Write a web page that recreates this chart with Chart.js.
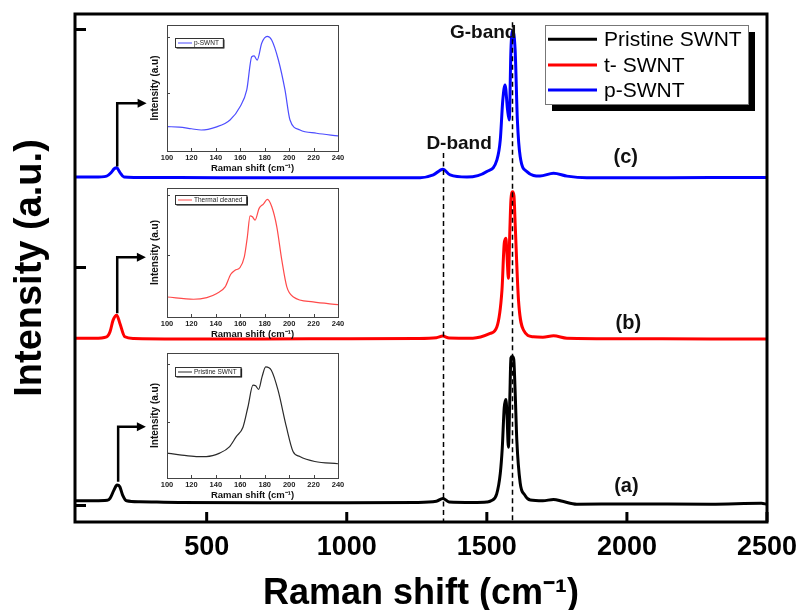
<!DOCTYPE html>
<html>
<head>
<meta charset="utf-8">
<script src="https://cdn.jsdelivr.net/npm/chart.js@4.4.0/dist/chart.umd.min.js"></script>
<style>
html, body { margin: 0; padding: 0; background: #fff; }
#wrap { position: relative; width: 801px; height: 610px; overflow: hidden; }
canvas { position: absolute; }
</style>
</head>
<body>
<div id="wrap">
  <canvas id="main" width="801" height="610" style="left:0;top:0;width:801px;height:610px"></canvas>
  <canvas id="insetC"></canvas>
  <canvas id="insetB"></canvas>
  <canvas id="insetA"></canvas>
</div>
<script>
// ---------------- DATA ----------------
const xTickValues = [500, 1000, 1500, 2000, 2500];
const yTickValues = [0, 1, 2];
const seriesLabels = ['Pristine SWNT', 't- SWNT', 'p-SWNT'];
const panelLabels = ['(a)', '(b)', '(c)'];
const bandLabels = ['D-band', 'G-band'];
const bandShifts = [1345, 1591];

// (a) Pristine SWNT (offset spectrum)
const pristineShift = [30,100,145,155,169,180,190,200,214,260,400,700,1000,1250,1320,1343,1365,1450,1500,1515,1535,1548,1555,1562,1568,1572,1577,1582,1586,1591,1596,1601,1607,1619,1635,1655,1700,1738,1770,1821,2000,2300,2480,2500];
const pristineIntensity = [0.02,0.02,0.022,0.03,0.065,0.086,0.079,0.044,0.02,0.016,0.013,0.012,0.012,0.013,0.018,0.03,0.015,0.013,0.015,0.02,0.048,0.135,0.24,0.41,0.446,0.38,0.245,0.45,0.62,0.626,0.615,0.48,0.275,0.095,0.045,0.023,0.02,0.026,0.018,0.006,0.007,0.006,0.01,0.005];

// (b) t- SWNT (thermally cleaned)
const thermalShift = [30,100,143,155,166,179,190,208,240,400,700,1000,1250,1320,1343,1365,1450,1512,1536,1554,1562,1568,1572,1577,1582,1586,1592,1597,1601,1613,1631,1666,1700,1738,1786,2000,2300,2500];
const thermalIntensity = [0.703,0.703,0.709,0.73,0.779,0.80,0.766,0.709,0.702,0.700,0.700,0.701,0.702,0.705,0.712,0.704,0.703,0.723,0.751,0.905,1.10,1.123,1.05,0.955,1.15,1.284,1.318,1.30,1.187,0.863,0.737,0.709,0.707,0.713,0.703,0.701,0.700,0.700];

// (c) p-SWNT
const purifiedShift = [30,100,143,160,170,179,190,205,240,400,700,1000,1262,1309,1343,1369,1429,1500,1536,1548,1557,1565,1574,1580,1586,1592,1601,1609,1619,1643,1690,1738,1786,1857,2000,2300,2500];
const purifiedIntensity = [1.38,1.38,1.384,1.40,1.415,1.419,1.40,1.38,1.378,1.378,1.377,1.377,1.377,1.389,1.413,1.389,1.38,1.403,1.452,1.536,1.704,1.767,1.662,1.62,1.914,1.995,1.914,1.62,1.466,1.403,1.384,1.396,1.384,1.377,1.377,1.378,1.378];

// Insets: RBM region
const insetTickValues = [100, 120, 140, 160, 180, 200, 220, 240];
const insetLegendLabels = ['Pristine SWNT', 'Thermal cleaned', 'p-SWNT'];

const pristineRbmShift = [100,110.4,124,132.2,143.1,151.3,156.7,162.2,166.3,170.4,172.6,175,177.8,180.8,185.4,190.9,197.7,203.2,208.7,221,240];
const pristineRbmIntensity = [0.452,0.423,0.393,0.393,0.452,0.567,0.74,0.903,1.26,1.636,1.624,1.562,1.78,1.953,1.896,1.549,0.913,0.48,0.393,0.307,0.267];

const thermalRbmShift = [100,121.7,132.6,140.8,147.6,152.2,155.7,159.8,163.3,165.8,168,169.9,172.1,175.4,178.9,182.2,185.8,189.9,194,198.1,203.5,219.6,240];
const thermalRbmIntensity = [0.305,0.267,0.295,0.362,0.472,0.683,0.75,0.795,0.972,1.305,1.655,1.638,1.583,1.778,1.85,1.928,1.805,1.472,0.917,0.472,0.305,0.222,0.178];

const purifiedRbmShift = [100,110,120,128,140,151.6,159.8,165.3,169.4,171.3,173.8,177.6,182,185.7,191.2,196.6,200.7,208.9,222.5,240];
const purifiedRbmIntensity = [0.407,0.40,0.37,0.348,0.40,0.526,0.762,1.059,1.65,1.663,1.59,1.893,2.01,1.947,1.591,1.059,0.526,0.348,0.29,0.242];

// ---------------- STYLE / LAYOUT ----------------
const FONT = '"Liberation Sans", Arial, sans-serif';
const mainColors = ['#000000', '#ff0000', '#0000ff'];
const insetColors = ['#2a2a2a', '#ff4a4a', '#4d4dff'];
const LAYOUT = {
  bandLineTop: [1.481, 2.03],
  bandText: [{x: 1401, y: 1.524}, {x: 1487, y: 1.991}],
  panelText: [{x: 1998, y: 0.086}, {x: 2005, y: 0.771}, {x: 1996, y: 1.466}],
  arrows: [
    {x: 184, base: 0.10, corner: 0.331, tip: 283},
    {x: 180.7, base: 0.808, corner: 1.043, tip: 283},
    {x: 180.7, base: 1.424, corner: 1.69, tip: 285.7}
  ],
  legend: {x: 545, y: 25, w: 203, h: 79, shadow: 7, rows: [39.3, 65, 90], lineX0: 548, lineX1: 597, textX: 604}
};

const pts = (xs, ys) => xs.map((x, i) => ({x: x, y: ys[i]}));

// ---------------- MAIN CHART ----------------
const mainDeco = {
  id: 'mainDeco',
  afterDatasetsDraw(chart) {
    const {ctx, chartArea: a, scales: {x, y}} = chart;
    ctx.save();
    ctx.strokeStyle = '#000';
    ctx.lineWidth = 1.5;
    ctx.setLineDash([5, 3.5]);
    bandShifts.forEach((v, i) => {
      const px = Math.round(x.getPixelForValue(v)) + 0.5;
      ctx.beginPath();
      ctx.moveTo(px, y.getPixelForValue(LAYOUT.bandLineTop[i]));
      ctx.lineTo(px, a.bottom);
      ctx.stroke();
    });
    ctx.restore();
  },
  afterDraw(chart) {
    const {ctx, chartArea: a, scales: {x, y}} = chart;
    ctx.save();
    // frame
    ctx.strokeStyle = '#000';
    ctx.lineWidth = 3;
    ctx.strokeRect(a.left, a.top, a.right - a.left, a.bottom - a.top);
    // inward ticks
    ctx.beginPath();
    xTickValues.forEach(v => {
      const px = x.getPixelForValue(v);
      ctx.moveTo(px, a.bottom);
      ctx.lineTo(px, a.bottom - 10);
    });
    yTickValues.forEach(v => {
      const py = y.getPixelForValue(v);
      ctx.moveTo(a.left, py);
      ctx.lineTo(a.left + 11, py);
    });
    ctx.stroke();

    // arrows
    ctx.lineWidth = 2.5;
    ctx.fillStyle = '#000';
    LAYOUT.arrows.forEach(ar => {
      const px = x.getPixelForValue(ar.x);
      const py0 = y.getPixelForValue(ar.base);
      const py1 = y.getPixelForValue(ar.corner);
      const tip = x.getPixelForValue(ar.tip);
      ctx.beginPath();
      ctx.moveTo(px, py0);
      ctx.lineTo(px, py1);
      ctx.lineTo(tip - 7, py1);
      ctx.stroke();
      ctx.beginPath();
      ctx.moveTo(tip, py1);
      ctx.lineTo(tip - 9, py1 - 4.5);
      ctx.lineTo(tip - 9, py1 + 4.5);
      ctx.closePath();
      ctx.fill();
    });

    // text labels
    ctx.fillStyle = '#111';
    ctx.textAlign = 'center';
    ctx.textBaseline = 'middle';
    ctx.font = 'bold 19px ' + FONT;
    bandLabels.forEach((t, i) => {
      const p = LAYOUT.bandText[i];
      ctx.fillText(t, x.getPixelForValue(p.x), y.getPixelForValue(p.y) + 1);
    });
    ctx.font = 'bold 20px ' + FONT;
    panelLabels.forEach((t, i) => {
      const p = LAYOUT.panelText[i];
      ctx.fillText(t, x.getPixelForValue(p.x), y.getPixelForValue(p.y) + 1);
    });

    // legend
    const L = LAYOUT.legend;
    ctx.fillStyle = '#000';
    ctx.fillRect(L.x + L.shadow, L.y + L.shadow, L.w, L.h);
    ctx.fillStyle = '#fff';
    ctx.fillRect(L.x, L.y, L.w, L.h);
    ctx.strokeStyle = '#777';
    ctx.lineWidth = 1;
    ctx.strokeRect(L.x + 0.5, L.y + 0.5, L.w, L.h);
    ctx.textAlign = 'left';
    ctx.font = '21px ' + FONT;
    chart.data.datasets.forEach((ds, i) => {
      const ry = L.rows[i];
      ctx.strokeStyle = ds.borderColor;
      ctx.lineWidth = 3;
      ctx.beginPath();
      ctx.moveTo(L.lineX0, ry);
      ctx.lineTo(L.lineX1, ry);
      ctx.stroke();
      ctx.fillStyle = '#000';
      ctx.fillText(ds.label, L.textX, ry + 1);
    });
    ctx.restore();
  }
};

const mainSeries = [
  pts(pristineShift, pristineIntensity),
  pts(thermalShift, thermalIntensity),
  pts(purifiedShift, purifiedIntensity)
];

new Chart(document.getElementById('main'), {
  type: 'line',
  data: {
    datasets: seriesLabels.map((lab, i) => ({
      label: lab,
      data: mainSeries[i],
      borderColor: mainColors[i],
      backgroundColor: mainColors[i],
      borderWidth: 3,
      pointRadius: 0,
      cubicInterpolationMode: 'monotone',
      fill: false
    }))
  },
  options: {
    responsive: false,
    animation: false,
    devicePixelRatio: 1,
    layout: {padding: {left: 0, top: 14, right: 34, bottom: 0}},
    plugins: {legend: {display: false}, tooltip: {enabled: false}},
    scales: {
      x: {
        type: 'linear', min: 30, max: 2500,
        afterBuildTicks: s => { s.ticks = xTickValues.map(v => ({value: v})); },
        grid: {display: false, drawTicks: false},
        border: {display: false},
        ticks: {padding: 9.5, maxRotation: 0, autoSkip: false, color: '#000',
                callback: v => String(v),
                font: {family: FONT, size: 27, weight: 'bold'}},
        title: {display: true, text: 'Raman shift (cm⁻¹)', color: '#000',
                font: {family: FONT, size: 36, weight: 'bold', lineHeight: 0.8},
                padding: {top: 0, bottom: 1.8}},
        afterFit: s => { s.height = 88; s.paddingLeft = 0; s.paddingRight = 0; }
      },
      y: {
        type: 'linear', min: -0.069, max: 2.065,
        afterBuildTicks: s => { s.ticks = yTickValues.map(v => ({value: v})); },
        grid: {display: false, drawTicks: false},
        border: {display: false},
        ticks: {display: false},
        title: {display: true, text: 'Intensity (a.u.)', color: '#000',
                font: {family: FONT, size: 38, weight: 'bold'},
                padding: {top: 7.4, bottom: 0}},
        afterFit: s => { s.width = 75; s.paddingTop = 0; s.paddingBottom = 0; }
      }
    }
  },
  plugins: [mainDeco]
});

// ---------------- INSETS ----------------
const insetDeco = {
  id: 'insetDeco',
  afterDraw(chart, args, opts) {
    const {ctx, chartArea: a, scales: {x, y}} = chart;
    ctx.save();
    ctx.strokeStyle = '#444';
    ctx.lineWidth = 1;
    ctx.strokeRect(Math.round(a.left) + 0.5, Math.round(a.top) + 0.5, Math.round(a.right - a.left), Math.round(a.bottom - a.top));
    ctx.beginPath();
    insetTickValues.forEach(v => {
      const px = Math.round(x.getPixelForValue(v)) + 0.5;
      ctx.moveTo(px, a.bottom);
      ctx.lineTo(px, a.bottom - 3);
    });
    [1, 2].forEach(v => {
      const py = Math.round(y.getPixelForValue(v)) + 0.5;
      ctx.moveTo(a.left, py);
      ctx.lineTo(a.left + 3, py);
    });
    ctx.stroke();
    // legend box
    const ds = chart.data.datasets[0];
    ctx.font = '6.5px ' + FONT;
    const tw = ctx.measureText(ds.label).width;
    const bx = a.left + 8, by = a.top + opts.boxTop, bw = 19 + tw + 4, bh = 9;
    ctx.fillStyle = '#000';
    ctx.fillRect(bx + 1.5, by + 1.5, bw, bh);
    ctx.fillStyle = '#fff';
    ctx.fillRect(bx, by, bw, bh);
    ctx.strokeStyle = '#333';
    ctx.strokeRect(bx + 0.5, by + 0.5, bw, bh);
    ctx.strokeStyle = ds.borderColor;
    ctx.lineWidth = 1;
    ctx.beginPath();
    ctx.moveTo(bx + 3, by + bh / 2 + 0.5);
    ctx.lineTo(bx + 17, by + bh / 2 + 0.5);
    ctx.stroke();
    ctx.fillStyle = '#222';
    ctx.textAlign = 'left';
    ctx.textBaseline = 'middle';
    ctx.fillText(ds.label, bx + 19, by + bh / 2 + 1);
    ctx.restore();
  }
};

function insetChart(id, shifts, intens, idx, g) {
  const el = document.getElementById(id);
  el.width = g.w; el.height = g.h;
  el.style.left = g.left + 'px'; el.style.top = g.top + 'px';
  el.style.width = g.w + 'px'; el.style.height = g.h + 'px';
  return new Chart(el, {
    type: 'line',
    data: {datasets: [{
      label: insetLegendLabels[idx],
      data: pts(shifts, intens),
      borderColor: insetColors[idx],
      borderWidth: 1.2,
      pointRadius: 0,
      cubicInterpolationMode: 'monotone',
      fill: false
    }]},
    options: {
      responsive: false,
      animation: false,
      devicePixelRatio: 1,
      layout: {padding: {left: 0, top: g.padTop, right: 7, bottom: 0}},
      plugins: {legend: {display: false}, tooltip: {enabled: false}, insetDeco: {boxTop: g.boxTop}},
      scales: {
        x: {
          type: 'linear', min: 100, max: 240,
          afterBuildTicks: s => { s.ticks = insetTickValues.map(v => ({value: v})); },
          grid: {display: false, drawTicks: false},
          border: {display: false},
          ticks: {padding: 2.3, maxRotation: 0, autoSkip: false, color: '#222',
                  callback: v => String(v),
                  font: {family: FONT, size: 7.5, weight: 'bold'}},
          title: {display: true, text: 'Raman shift (cm⁻¹)', color: '#111',
                  font: {family: FONT, size: 9.5, weight: 'bold'},
                  padding: {top: 0, bottom: 6.3}},
          afterFit: s => { s.height = 29; s.paddingLeft = 0; s.paddingRight = 0; }
        },
        y: {
          type: 'linear', min: g.yMin, max: g.yMax,
          grid: {display: false, drawTicks: false},
          border: {display: false},
          ticks: {display: false},
          title: {display: true, text: 'Intensity (a.u)', color: '#111',
                  font: {family: FONT, size: 10, weight: 'bold'},
                  padding: {top: 9, bottom: 0}},
          afterFit: s => { s.width = 27; s.paddingTop = 0; s.paddingBottom = 0; }
        }
      }
    },
    plugins: [insetDeco]
  });
}

insetChart('insetC', purifiedRbmShift, purifiedRbmIntensity, 2,
  {left: 140, top: 20, w: 205, h: 160, padTop: 5, yMin: -0.025, yMax: 2.213, boxTop: 13});
insetChart('insetB', thermalRbmShift, thermalRbmIntensity, 1,
  {left: 140, top: 183, w: 205, h: 163, padTop: 5, yMin: -0.028, yMax: 2.117, boxTop: 7});
insetChart('insetA', pristineRbmShift, pristineRbmIntensity, 0,
  {left: 140, top: 348, w: 205, h: 159, padTop: 5, yMin: 0.019, yMax: 2.196, boxTop: 14});
</script>
</body>
</html>
